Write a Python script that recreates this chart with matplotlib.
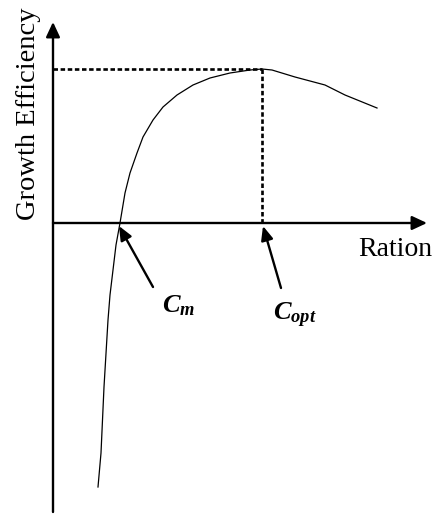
import matplotlib
matplotlib.use("Agg")
import matplotlib.pyplot as plt

plt.rcParams['font.family'] = ['Liberation Serif', 'DejaVu Serif']
plt.rcParams['mathtext.fontset'] = 'custom'
plt.rcParams['mathtext.it'] = 'Liberation Serif:italic:bold'
plt.rcParams['mathtext.rm'] = 'Liberation Serif:bold'

# Curve data (ration, growth efficiency), arbitrary units
ration = [0.45, 0.48, 0.51, 0.55, 0.57, 0.60, 0.63, 0.67, 0.72, 0.77,
          0.84, 0.90, 1.00, 1.10, 1.24, 1.40, 1.57, 1.77, 1.97, 2.09,
          2.19, 2.42, 2.72, 2.92, 3.24]
efficiency = [-2.64, -2.30, -1.64, -0.97, -0.72, -0.47, -0.22, 0.00, 0.30, 0.50,
              0.70, 0.86, 1.03, 1.16, 1.28, 1.38, 1.45, 1.50, 1.53, 1.54,
              1.53, 1.46, 1.38, 1.28, 1.15]

c_m = 0.67
c_opt = 2.09
e_max = 1.54

x_label = "Ration"
y_label = "Growth Efficiency"
cm_label = r"$C_m$"
copt_label = r"$C_{opt}$"

W, H = 433, 515
fig = plt.figure(figsize=(W / 100, H / 100), dpi=100)
ax = fig.add_axes([0, 0, 1, 1])
ax.set_xlim(-0.53, 3.80)
ax.set_ylim(-2.92, 2.23)
ax.axis('off')

arrow_kw = dict(arrowstyle='-|>,head_length=0.75,head_width=0.35',
                mutation_scale=12, lw=1.7, color='black',
                shrinkA=0, shrinkB=0)

# axes with arrows
ax.annotate('', xy=(0, 2.01), xytext=(0, -2.89), arrowprops=arrow_kw)
ax.annotate('', xy=(3.74, 0), xytext=(0, 0), arrowprops=arrow_kw)

# curve
ax.plot(ration, efficiency, color='black', lw=0.9, solid_joinstyle='round')

# dashed guides
ax.plot([0, c_opt], [e_max, e_max], color='black', lw=1.9, dashes=(1.7, 1.0))
ax.plot([c_opt, c_opt], [e_max, 0], color='black', lw=1.9, dashes=(1.7, 1.0))

# pointer arrows
ptr_kw = dict(arrowstyle='-|>,head_length=0.7,head_width=0.3',
              mutation_scale=12, lw=1.7, color='black',
              shrinkA=0, shrinkB=0)
ax.annotate('', xy=(c_m - 0.01, -0.03), xytext=(1.00, -0.64), arrowprops=ptr_kw)
ax.annotate('', xy=(c_opt + 0.01, -0.03), xytext=(2.28, -0.65), arrowprops=ptr_kw)

# labels
fig.text(162 / W, 1 - 312 / H, cm_label, fontsize=19, ha='left', va='baseline')
fig.text(273 / W, 1 - 320 / H, copt_label, fontsize=19, ha='left', va='baseline')
fig.text(432 / W, 1 - 256 / H, x_label, fontsize=20, ha='right', va='baseline')
fig.text(41 / W, 1 - 114 / H, y_label, fontsize=20.5, rotation=90,
         ha='right', va='center')

fig.savefig('out.png', dpi=100)
